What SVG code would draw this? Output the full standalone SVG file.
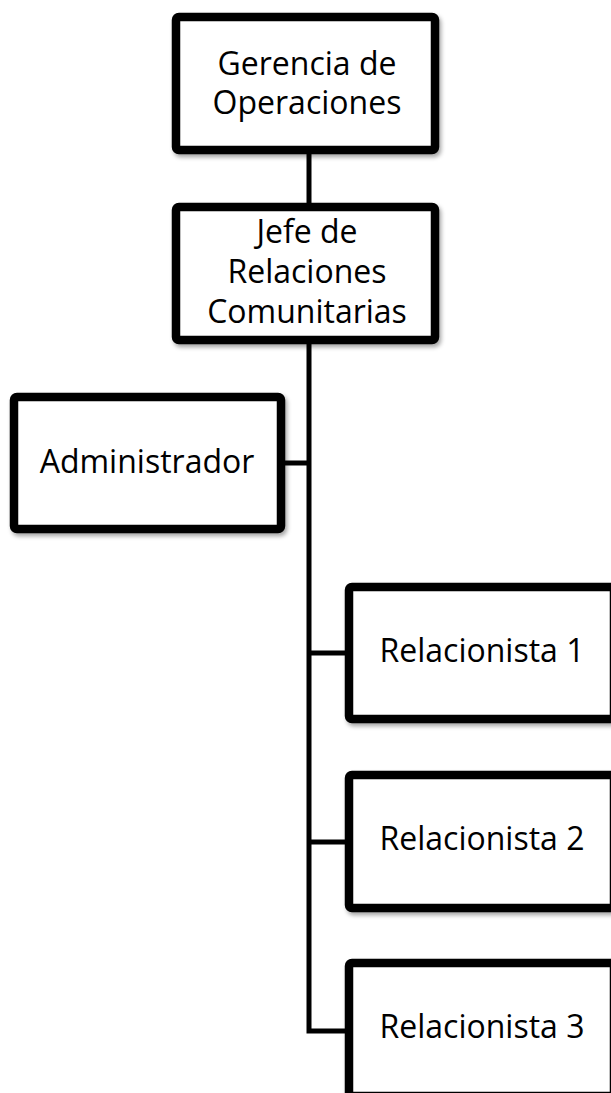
<svg xmlns="http://www.w3.org/2000/svg" width="611" height="1093" viewBox="0 0 611 1093">
<style>
.box{fill:#fff;stroke:#000;stroke-width:8.5;filter:url(#sh)}
.lbl{font-family:"Open Sans","Noto Sans",sans-serif;font-size:32px;fill:#000;text-anchor:middle}
.con{fill:none;stroke:#000;stroke-width:5}
</style>
<defs>
<filter id="sh" x="-10%" y="-10%" width="130%" height="130%">
<feDropShadow dx="2" dy="3" stdDeviation="2" flood-color="#000" flood-opacity="0.35"/>
</filter>
</defs>
<rect width="611" height="1093" fill="#fff"/>
<g id="connectors">
<path class="con" d="M309 150 V207"/>
<path class="con" d="M309 340 V1031 H349"/>
<path class="con" d="M281 463 H309"/>
<path class="con" d="M309 653 H349"/>
<path class="con" d="M309 842 H349"/>
</g>
<g id="gerencia">
<rect class="box" x="176" y="17" width="259" height="133" rx="3"/>
<text class="lbl" x="307" y="75">Gerencia de</text>
<text class="lbl" x="307" y="114">Operaciones</text>
</g>
<g id="jefe">
<rect class="box" x="176" y="207" width="259" height="133" rx="3"/>
<text class="lbl" x="307" y="243">Jefe de</text>
<text class="lbl" x="307" y="283">Relaciones</text>
<text class="lbl" x="307" y="323">Comunitarias</text>
</g>
<g id="administrador">
<rect class="box" x="14" y="397" width="267" height="132" rx="3"/>
<text class="lbl" x="147" y="473">Administrador</text>
</g>
<g id="relacionista1">
<rect class="box" x="349" y="587" width="265" height="132" rx="3"/>
<text class="lbl" x="482" y="662">Relacionista 1</text>
</g>
<g id="relacionista2">
<rect class="box" x="349" y="775" width="265" height="133" rx="3"/>
<text class="lbl" x="482" y="850">Relacionista 2</text>
</g>
<g id="relacionista3">
<rect class="box" x="349" y="963" width="265" height="133" rx="3"/>
<text class="lbl" x="482" y="1038">Relacionista 3</text>
</g>
</svg>
